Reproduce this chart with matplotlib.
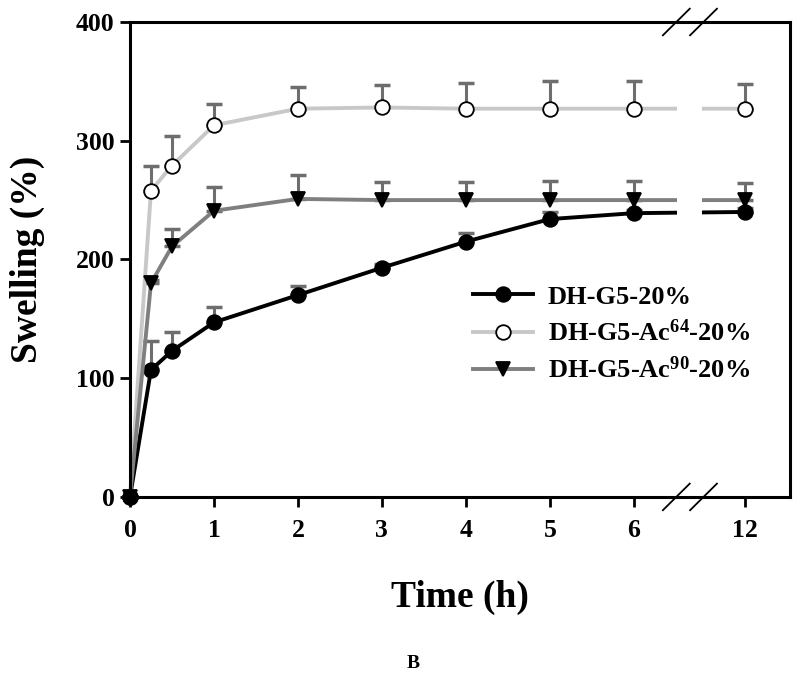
import numpy as np
import matplotlib
matplotlib.use('Agg')
import matplotlib.pyplot as plt

plt.rcParams['font.family'] = ['Liberation Serif', 'DejaVu Serif']
plt.rcParams['font.weight'] = 'bold'
plt.rcParams['mathtext.fontset'] = 'custom'
plt.rcParams['mathtext.rm'] = 'Liberation Serif:bold'
plt.rcParams['mathtext.bf'] = 'Liberation Serif:bold'
plt.rcParams['mathtext.default'] = 'rm'

# data
times = [0, 0.25, 0.5, 1, 2, 3, 4, 5, 6, 12]
tick_labels = ['0', '1', '2', '3', '4', '5', '6', '12']
tick_times = [0, 1, 2, 3, 4, 5, 6, 12]

dh = [0, 107, 123, 147, 170, 193, 215, 234, 239, 240]
dh_err = [0, 24, 16, 13, 8, 3, 7, 6, 3, 3]
ac64 = [0, 258, 279, 313, 327, 328, 327, 327, 327, 327]
ac64_err = [0, 21, 25, 18, 18, 19, 22, 23, 23, 21]
ac90 = [0, 180, 211, 241, 251, 250, 250, 250, 250, 250]
ac90_err = [0, 3, 15, 20, 20, 15, 15, 16, 16, 14]

labels = ['DH-G5-20%', r'DH-G5-Ac$^{64}$-20%', r'DH-G5-Ac$^{90}$-20%']


def pos(t):  # broken axis: 12 h sits just after the break
    t = np.asarray(t, dtype=float)
    return np.where(t > 6, 7.32, t)


fig = plt.figure(figsize=(8, 6.77), dpi=100)
ax = fig.add_axes([0.1625, 0.266, 0.825, 0.7015])

x = pos(times)
err_color = '#6e6e6e'
series = [
    (dh, dh_err, 'black', 'o', 'black', 5),
    (ac64, ac64_err, '#c8c8c8', 'o', 'white', 4),
    (ac90, ac90_err, '#7f7f7f', 'v', 'black', 5),
]
handles = []
for (y, e, col, mk, fc, z), lab in zip(series, labels):
    ax.errorbar(x, y, yerr=[np.zeros(len(e)), e], fmt='none', ecolor=err_color,
                elinewidth=2.2, capsize=5.5, capthick=2.5, zorder=z - 2, clip_on=False)
    h, = ax.plot(x, y, color=col, lw=2.8, marker=mk, ms=10.5, mfc=fc, mec='black',
                 mew=1.3, zorder=z, clip_on=False, label=lab)
    handles.append(h)

# gap in the lines at the break
ax.axvspan(6.52, 6.81, color='white', zorder=6.5, lw=0)

ax.set_xlim(0, 7.86)
ax.set_ylim(0, 400)
ax.set_xticks(pos(tick_times))
ax.set_xticklabels(tick_labels)
ax.set_yticks([0, 100, 200, 300, 400])
ax.tick_params(direction='out', length=7, width=2, labelsize=18.5)
ax.tick_params(axis='x', pad=9)
ax.tick_params(axis='y', pad=4)
for s in ax.spines.values():
    s.set_linewidth(2.2)
    s.set_zorder(7)

# break marks on top and bottom spines
tr = ax.get_xaxis_transform()
for xc in [6.506, 6.83]:
    for yc in [0, 1]:
        ax.plot([xc - 0.16, xc + 0.16], [yc - 0.028, yc + 0.028], color='black',
                lw=1.3, transform=tr, clip_on=False, zorder=8)

ax.set_xlabel('Time (h)', fontsize=27, fontweight='bold', labelpad=27)
ax.set_ylabel('Swelling (%)', fontsize=27, fontweight='bold', labelpad=22)

leg = ax.legend(handles=handles, loc='center left', bbox_to_anchor=(0.503, 0.343),
                frameon=False, fontsize=19, handlelength=2.3, handletextpad=0.55,
                labelspacing=0.4, borderaxespad=0)
leg.set_zorder(10)

fig.text(0.516, 0.0135, 'B', fontsize=14, fontweight='bold', ha='center', va='baseline')

fig.savefig('out.png', dpi=100)
